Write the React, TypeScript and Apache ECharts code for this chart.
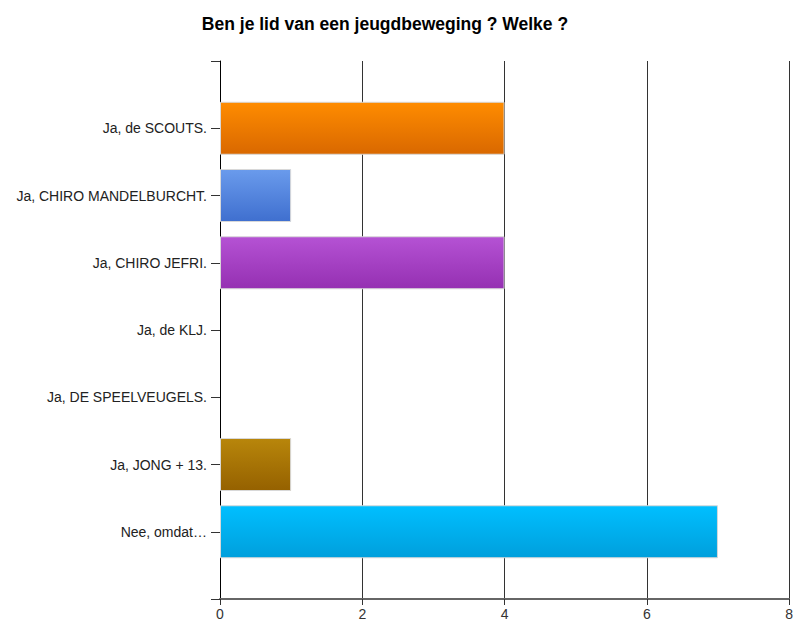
import React, { useEffect, useRef } from "react";
import * as echarts from "echarts";

const categories = [
  "",
  "Ja, de SCOUTS.",
  "Ja, CHIRO MANDELBURCHT.",
  "Ja, CHIRO JEFRI.",
  "Ja, de KLJ.",
  "Ja, DE SPEELVEUGELS.",
  "Ja, JONG + 13.",
  "Nee, omdat…",
  "",
];
const values: (number | string)[] = ["-", 4, 1, 4, 0, 0, 1, 7, "-"];
const topColors = ["", "#FF8C00", "#6A9BEC", "#B552D4", "#7F7FFF", "#7F7FFF", "#B8860B", "#00BFFF", ""];
const bottomColors = ["", "#D96800", "#3F6FCF", "#9530B2", "#5F5FDF", "#5F5FDF", "#956100", "#009FDC", ""];
const xTicks = { min: 0, max: 8, interval: 2 };
const title = "Ben je lid van een jeugdbeweging ? Welke ?";

export default function App() {
  const ref = useRef<HTMLDivElement>(null);
  useEffect(() => {
    if (!ref.current) return;
    const chart = echarts.init(ref.current, undefined, { renderer: "svg" });
    chart.setOption({
      animation: false,
      backgroundColor: "#ffffff",
      title: {
        text: title,
        left: 380,
        textAlign: "center",
        top: 10,
        textStyle: {
          fontFamily: "Liberation Sans, Arial, sans-serif",
          fontSize: 17.5,
          fontWeight: "bold",
          color: "#000",
        },
      },
      grid: { left: 220, right: 2, top: 61, bottom: 23, containLabel: false },
      xAxis: {
        type: "value",
        min: xTicks.min,
        max: xTicks.max,
        interval: xTicks.interval,
        axisLine: { show: true, onZero: false, lineStyle: { color: "#666", width: 2 } },
        axisTick: { show: true, length: 6, lineStyle: { color: "#333", width: 1 } },
        axisLabel: {
          color: "#333",
          fontFamily: "Liberation Sans, Arial, sans-serif",
          fontSize: 14,
          margin: 8,
        },
        splitLine: { show: true, lineStyle: { color: "#333", width: 1 } },
      },
      yAxis: {
        type: "category",
        inverse: true,
        boundaryGap: false,
        data: categories,
        axisLine: { show: true, lineStyle: { color: "#000", width: 1 } },
        axisTick: { show: true, length: 9, alignWithLabel: true, lineStyle: { color: "#333" } },
        axisLabel: {
          color: "#222",
          fontFamily: "Liberation Sans, Arial, sans-serif",
          fontSize: 14,
          margin: 13,
          interval: 0,
        },
        splitLine: { show: false },
      },
      series: [
        {
          type: "bar",
          barWidth: 53,
          data: values.map((v, i) => ({
            value: v,
            itemStyle: {
              color: topColors[i]
                ? new echarts.graphic.LinearGradient(0, 0, 0, 1, [
                    { offset: 0, color: topColors[i] },
                    { offset: 1, color: bottomColors[i] },
                  ])
                : "#fff",
              borderColor: "#d8d8d8",
              borderWidth: v === 0 ? 0 : 1,
            },
          })),
        },
      ],
    });
    return () => chart.dispose();
  }, []);
  return (
    <div
      ref={ref}
      style={{ position: "absolute", left: 0, top: 0, width: 796, height: 622 }}
    />
  );
}
